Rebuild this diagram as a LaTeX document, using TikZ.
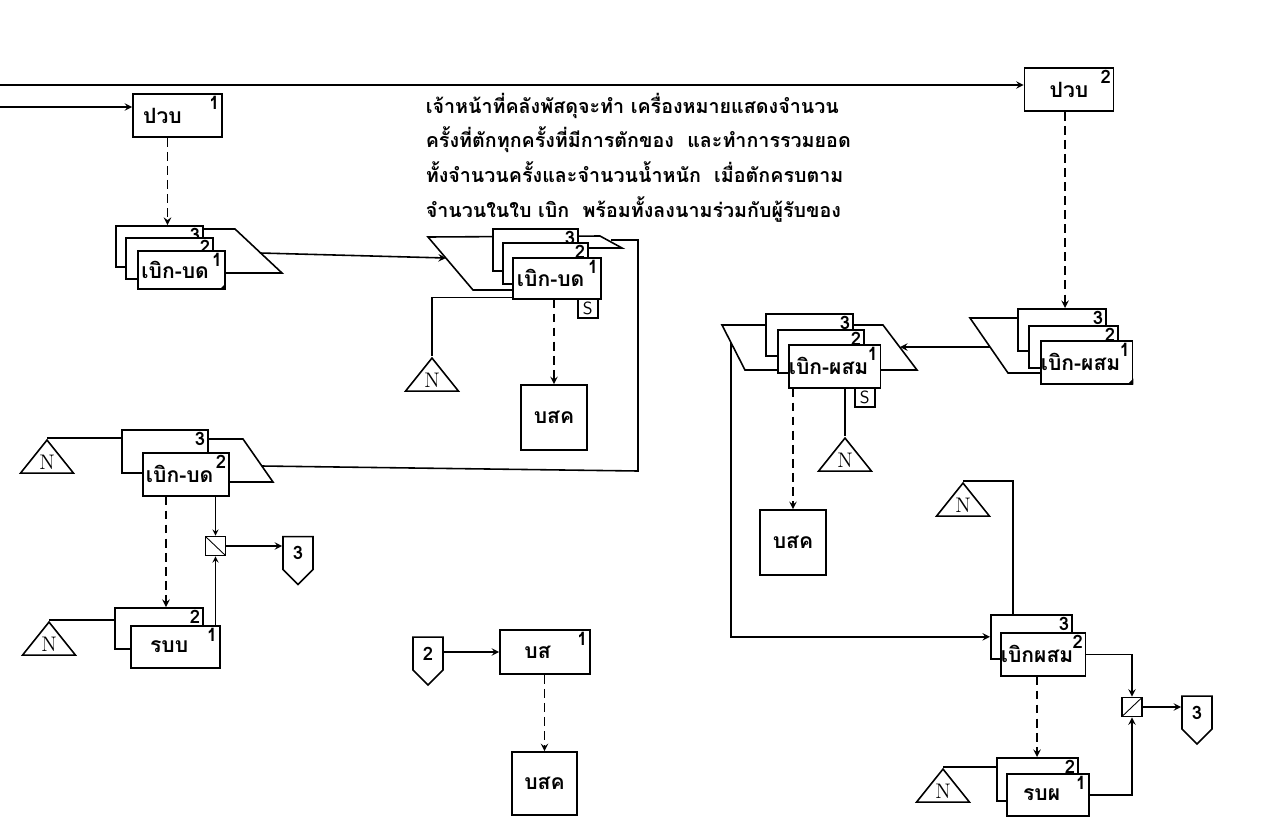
\documentclass[tikz,border=0pt]{standalone}
\usepackage{fontspec}
\newfontfamily\thaifont[Script=Thai]{Loma}
\usepackage{tikz}
\usetikzlibrary{arrows, shapes.geometric, shapes.symbols, calc}

\newcommand{\gap}{\hspace*{7pt}}

\begin{document}
\begin{tikzpicture}[
    x=0.02cm, y=-0.02cm,
    line width=0.9pt,
    font=\thaifont\bfseries\fontsize{12}{14}\selectfont,
    arrow/.style={->,>=stealth},
    flow/.style={->,>=stealth, dash pattern=on 5pt off 3pt},
    box/.style={draw, fill=white, rectangle, inner sep=0pt, minimum width=1.78cm, minimum height=0.86cm},
    doc/.style={draw, fill=white, rectangle, anchor=north west, inner sep=0pt, minimum width=1.74cm, minimum height=0.82cm},
    num/.style={label={[anchor=north east, inner sep=1.5pt, font=\thaifont\bfseries\fontsize{10.5}{12}\selectfont]north east:#1}},
    pgram/.style={draw, fill=white},
    sbox/.style={draw, fill=white, anchor=north west, inner sep=0pt, minimum width=0.4cm, minimum height=0.38cm, font=\sffamily},
    nmark/.style={draw, fill=white, isosceles triangle, isosceles triangle stretches, shape border rotate=90,
      anchor=apex, minimum width=1.06cm, minimum height=0.6cm, inner sep=0pt, font=\rmfamily\mdseries\large},
    offpage/.style={draw, fill=white, signal, signal to=south, signal pointer angle=90,
      minimum width=0.6cm, minimum height=0.76cm, inner sep=0pt, font=\thaifont\bfseries\fontsize{10.5}{12}\selectfont},
    collate/.style={draw, fill=white, minimum width=0.4cm, minimum height=0.38cm, inner sep=0pt},
    back/.style={path picture={\draw[line width=0.5pt] (path picture bounding box.north west) -- (path picture bounding box.south east);}},
    fwd/.style={path picture={\draw[line width=0.5pt] (path picture bounding box.south west) -- (path picture bounding box.north east);}}
]
\useasboundingbox (0,0) rectangle (1269,819);

% inputs from the left
\coordinate (inA) at (0,85);
\coordinate (inB) at (0,107);
\node[box, num=1, text depth=-4pt] (pvb1) at (177.5,115.5) {ปวบ\hspace*{0.6cm}};
\node[box, num=2, text depth=-4pt] (pvb2) at (1069,89.5) {ปวบ};
\draw[arrow] (inA) -- (inA -| pvb2.west);
\draw[arrow] (inB) -- (inB -| pvb1.west);

% note
\node[anchor=north west, align=left, inner sep=0pt, font=\thaifont\bfseries\fontsize{11.2}{19.8}\selectfont] (note) at (425,92)
  {เจ้าหน้าที่คลังพัสดุจะทำ เครื่องหมายแสดงจำนวน\\
   ครั้งที่ตักทุกครั้งที่มีการตักของ~~และทำการรวมยอด\\
   ทั้งจำนวนครั้งและจำนวนน้ำหนัก~~เมื่อตักครบตาม\\
   จำนวนในใบ เบิก~~พร้อมทั้งลงนามร่วมกับผู้รับของ};

% เบิก-บด from ปวบ 1
\draw[pgram] (150,229) -- (235,229) -- (282,273) -- (150,273) -- cycle;
\node[doc, minimum height=0.82cm, num=3] (bd3) at (115,225) {};
\node[doc, minimum height=0.82cm, num=2] (bd2) at (125,237) {};
\node[doc, minimum height=0.76cm, num=1, text depth=-5pt] (bd1) at (137,250) {เบิก-บด\gap};
\fill (bd1.south east) -- ++(-6,0) -- ++(6,-6) -- cycle;
\draw[flow] ($(pvb1.south)+(-10,0)$) -- ($(pvb1.south |- bd3.north)+(-10,0)$);
\coordinate (bdOut) at (260,253);

% เบิก-บด 1 with S
\draw[pgram] (428,237) -- (600,236) -- (622,248) -- (560,248) -- (560,290) -- (473,290) -- cycle;
\node[doc, minimum width=1.7cm, minimum height=0.84cm, num=3] (bc3) at (492,228) {};
\node[doc, minimum width=1.7cm, minimum height=0.82cm, num=2] (bc2) at (502,242) {};
\node[doc, minimum width=1.76cm, minimum height=0.82cm, num=1] (bc1) at (512,257) {เบิก-บด\gap};
\node[sbox] (s1) at (577,298) {S};
\coordinate (bcIn) at (446,258);
\draw[arrow] (bdOut) -- (bcIn);
\node[nmark] (n1) at (432,356) {N};
\draw ($(bc1.south west)+(0,-2)$) -| (n1.apex);
\node[box, minimum width=1.32cm, minimum height=1.3cm] (bsk1) at (554,417.5) {บสค};
\draw[flow] (bc1.south -| bsk1.north) -- (bsk1.north);

% loop back to เบิก-บด 2
\coordinate (bcOut) at (611,240);
\coordinate (loopA) at (638,471);
\coordinate (bmIn) at (262,466);
\draw (bcOut) -| (loopA) -- (bmIn);

% เบิก-บด 2
\draw[pgram] (160,439) -- (243,439) -- (273,482) -- (160,482) -- cycle;
\node[doc, minimum width=1.72cm, minimum height=0.86cm, num=3] (bm3) at (121,429) {};
\node[doc, minimum width=1.72cm, minimum height=0.86cm, num=2] (bm2) at (142,452) {เบิก-บด\gap};
\node[nmark] (n2) at (47,438) {N};
\draw (n2.apex) -- (n2.apex -| bm3.west);

% รบบ
\node[doc, minimum width=1.76cm, minimum height=0.82cm, num=2] (rb2) at (114,607) {};
\node[doc, minimum width=1.78cm, minimum height=0.84cm, num=1, text depth=-4pt] (rb1) at (130,625) {รบบ\gap};
\node[nmark] (n3) at (49,620) {N};
\draw (n3.apex) -- (n3.apex -| rb2.west);
\draw[flow] ($(bm2.south west)+(24,0)$) -- ($(bm2.south west |- rb2.north)+(24,0)$);

\node[collate, back] (c1) at (215.5,546) {};
\node[offpage] (off3a) at (298,553) {3};
\draw[arrow, line width=0.6pt] (bm2.south -| c1) -- (c1.north);
\draw[arrow, line width=0.6pt] (rb1.north -| c1) -- (c1.south);
\draw[arrow] (c1.east) -- (c1.east -| off3a.west);

% บส
\node[offpage] (off2) at (428,653.5) {2};
\node[box, minimum width=1.8cm, minimum height=0.88cm, num=1] (bs) at (545,652) {บส\hspace*{0.3cm}};
\draw[arrow] (off2.east |- bs.west) -- (bs.west);
\node[box, minimum width=1.3cm, minimum height=1.26cm] (bsk2) at (544.5,783.5) {บสค};
\draw[flow] (bs.south -| bsk2.north) -- (bsk2.north);

% เบิก-ผสม from ปวบ 2
\draw[pgram] (970,318) -- (1080,318) -- (1080,373) -- (1008,373) -- cycle;
\node[doc, minimum width=1.76cm, minimum height=0.84cm, num=3] (pr3) at (1017,308) {};
\node[doc, minimum width=1.78cm, minimum height=0.84cm, num=2] (pr2) at (1028,325) {};
\node[doc, minimum width=1.78cm, minimum height=0.86cm, num=1, text depth=-4pt] (pr1) at (1040,340) {เบิก-ผสม\gap};
\fill (pr1.south east) -- ++(-6,0) -- ++(6,-6) -- cycle;
\draw[flow] ($(pvb2.south)+(-4,0)$) -- ($(pvb2.south |- pr3.north)+(-4,0)$);
\coordinate (prOut) at (990,347);

% เบิก-ผสม 1 with S
\draw[pgram] (722,325) -- (883,325) -- (917,370) -- (745,370) -- cycle;
\node[doc, minimum width=1.74cm, minimum height=0.84cm, num=3] (pm3) at (765,313) {};
\node[doc, minimum width=1.72cm, minimum height=0.86cm, num=2] (pm2) at (777,329) {};
\node[doc, minimum width=1.78cm, minimum height=0.86cm, num=1] (pm1) at (788,344) {เบิก-ผสม\gap};
\node[sbox] (s2) at (854,387) {S};
\coordinate (pmIn) at (900,347);
\draw[arrow] (prOut) -- (pmIn);
\node[nmark] (n4) at (845,436) {N};
\draw (pm1.south -| n4.apex) -- (n4.apex);
\node[box, minimum width=1.32cm, minimum height=1.3cm] (bsk3) at (793,542.5) {บสค};
\draw[flow] (pm1.south -| bsk3.north) -- (bsk3.north);

% เบิกผสม 2
\node[doc, minimum width=1.62cm, minimum height=0.88cm, num=3] (ms3) at (990,614) {};
\node[doc, minimum width=1.64cm, minimum height=0.86cm, num=2] (ms2) at (1000,632) {เบิกผสม\gap};
\coordinate (pmOut) at (731,343);
\draw[arrow] (pmOut) |- (ms3.west);
\node[nmark] (n5) at (963,481) {N};
\draw ($(ms3.north west)+(23,0)$) |- (n5.apex);

% รบผ
\node[doc, minimum width=1.62cm, minimum height=0.86cm, num=2] (rp2) at (996,757) {};
\node[doc, minimum width=1.64cm, minimum height=0.84cm, num=1] (rp1) at (1006,773) {รบผ\gap};
\node[nmark] (n6) at (943,767) {N};
\draw (n6.apex) -- (n6.apex -| rp2.west);
\draw[flow] ($(ms2.south west)+(37,0)$) -- ($(ms2.south west |- rp2.north)+(37,0)$);

\node[collate, fwd] (c2) at (1132,707) {};
\node[offpage] (off3b) at (1197,712.5) {3};
\draw[arrow] (ms2.east) -| (c2.north);
\draw[arrow] (rp1.east) -| (c2.south);
\draw[arrow] (c2.east) -- (c2.east -| off3b.west);
\end{tikzpicture}
\end{document}
